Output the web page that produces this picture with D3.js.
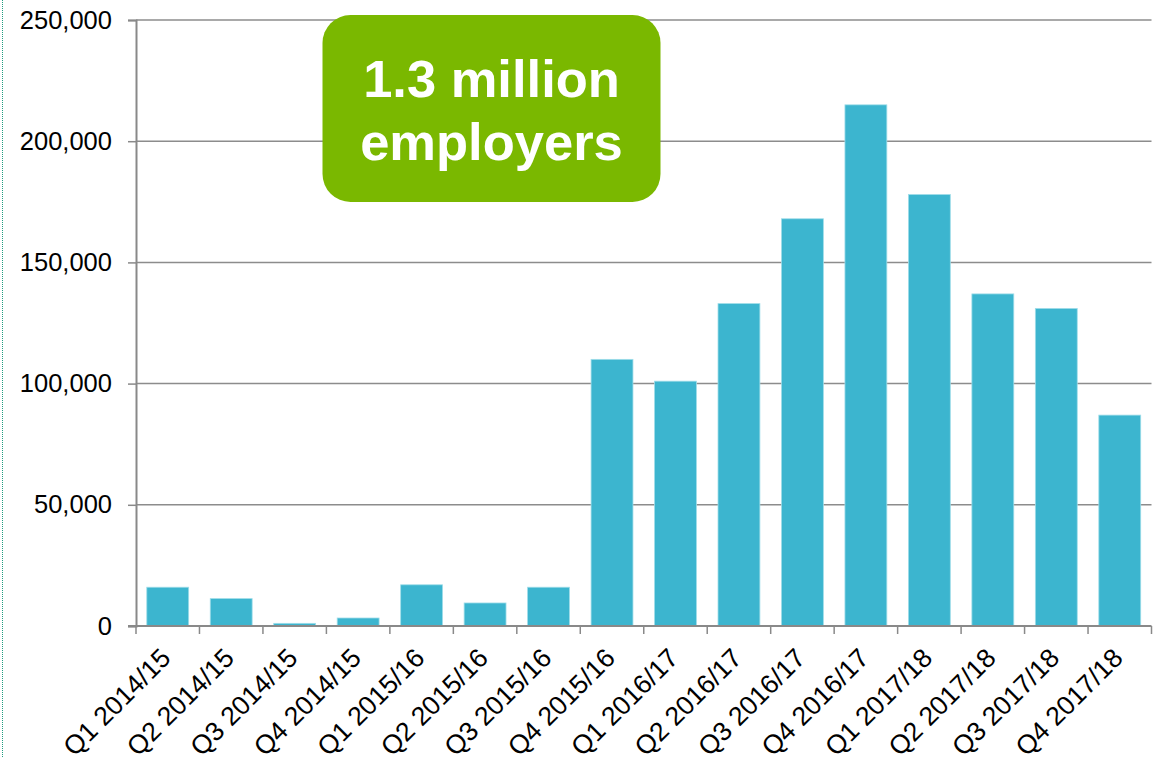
<!DOCTYPE html>
<meta charset="utf-8">
<style>
  body { margin: 0; background: #fff; }
  svg { display: block; font-family: "Liberation Sans", Arial, sans-serif; }
</style>
<body>
<div id="canvas"></div>
<script src="https://d3js.org/d3.v7.min.js"></script>
<script>

// quarters shown on the x axis
var quarters = ["Q1 2014/15", "Q2 2014/15", "Q3 2014/15", "Q4 2014/15",
                "Q1 2015/16", "Q2 2015/16", "Q3 2015/16", "Q4 2015/16",
                "Q1 2016/17", "Q2 2016/17", "Q3 2016/17", "Q4 2016/17",
                "Q1 2017/18", "Q2 2017/18", "Q3 2017/18", "Q4 2017/18"];

// employers per quarter
var employers = [16000, 11300, 1100, 3300,
                 17000, 9500, 16000, 110000,
                 101000, 133000, 168000, 215000,
                 178000, 137000, 131000, 87000];

var yTicks = [0, 50000, 100000, 150000, 200000, 250000];
var calloutLines = ["1.3 million", "employers"];

var width = 1157, height = 757;
var margin = {top: 20, right: 5.5, bottom: 131, left: 136};

var svg = d3.select("#canvas").append("svg")
    .attr("width", width)
    .attr("height", height);

// dotted frame line at the far left
svg.append("line")
    .attr("x1", 2.5).attr("x2", 2.5)
    .attr("y1", 0).attr("y2", height)
    .attr("stroke", "#1f9c80")
    .attr("stroke-width", 1)
    .attr("stroke-dasharray", "1,1");

var x = d3.scaleBand()
    .domain(quarters)
    .range([margin.left, width - margin.right])
    .paddingInner(0.34)
    .paddingOuter(0.17);

var y = d3.scaleLinear()
    .domain([0, 250000])
    .range([height - margin.bottom, margin.top]);

var fmt = d3.format(",");

// gridlines
svg.append("g")
    .selectAll("line")
    .data(yTicks.slice(1))
    .enter().append("line")
      .attr("x1", margin.left)
      .attr("x2", width - margin.right)
      .attr("y1", function(d){ return y(d); })
      .attr("y2", function(d){ return y(d); })
      .attr("stroke", "#8c8c8c")
      .attr("stroke-width", 1.5);

// bars
svg.append("g")
    .selectAll("rect")
    .data(employers)
    .enter().append("rect")
      .attr("x", function(d, i){ return x(quarters[i]); })
      .attr("y", function(d){ return y(d); })
      .attr("width", x.bandwidth())
      .attr("height", function(d){ return y(0) - y(d); })
      .attr("fill", "#3cb5cf")
      .attr("stroke", "#9fdde9")
      .attr("stroke-width", 0.8);

// y axis
var yAxis = svg.append("g")
    .attr("transform", "translate(" + margin.left + ",0)")
    .call(d3.axisLeft(y).tickValues(yTicks).tickFormat(fmt).tickSize(8).tickPadding(16));
yAxis.select(".domain").attr("stroke", "#898989").attr("stroke-width", 2);
yAxis.selectAll(".tick line").attr("stroke", "#898989").attr("stroke-width", 1.5);
yAxis.selectAll(".tick text")
    .attr("fill", "#000")
    .style("font-size", "25.5px")
    .style("font-family", "Liberation Sans, Arial, sans-serif");

// x axis: ticks on band edges, like the original
var edges = quarters.map(function(q){ return x(q) - x.step() * x.paddingInner() / 2; });
edges.push(width - margin.right);
var xAxis = svg.append("g");
xAxis.append("line")
    .attr("x1", margin.left - 8).attr("x2", width - margin.right)
    .attr("y1", y(0)).attr("y2", y(0))
    .attr("stroke", "#898989").attr("stroke-width", 2);
xAxis.selectAll(".edge")
    .data(edges)
    .enter().append("line")
      .attr("class", "edge")
      .attr("x1", function(d){ return d; }).attr("x2", function(d){ return d; })
      .attr("y1", y(0)).attr("y2", y(0) + 8)
      .attr("stroke", "#898989").attr("stroke-width", 1.5);

xAxis.selectAll("text")
    .data(quarters)
    .enter().append("text")
      .attr("transform", function(d){
          var cx = x(d) + x.bandwidth() / 2;
          return "translate(" + (cx - 2) + "," + (y(0) + 27) + ") rotate(-45)";
      })
      .attr("text-anchor", "end")
      .attr("dy", "0.35em")
      .style("font-size", "26.5px")
      .attr("fill", "#000")
      .text(function(d){ return d; });

// callout box
var box = svg.append("g");
box.append("rect")
    .attr("x", 322.5).attr("y", 15)
    .attr("width", 338).attr("height", 187)
    .attr("rx", 28).attr("ry", 28)
    .attr("fill", "#7ab800");
box.selectAll("text")
    .data(calloutLines)
    .enter().append("text")
      .attr("x", 491.5)
      .attr("y", function(d, i){ return 97 + i * 63; })
      .attr("text-anchor", "middle")
      .attr("fill", "#fff")
      .style("font-size", "52.5px")
      .style("font-weight", "bold")
      .text(function(d){ return d; });

</script>
</body>
